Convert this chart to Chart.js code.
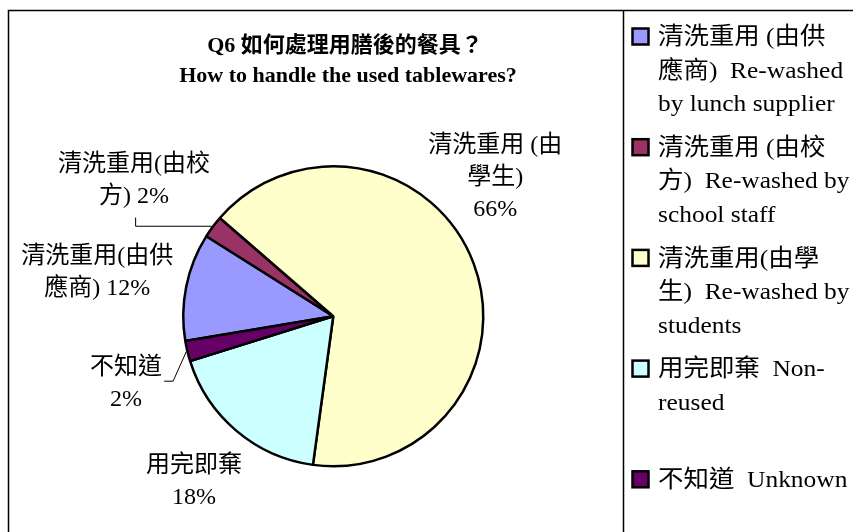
<!DOCTYPE html>
<html>
<head>
<meta charset="utf-8">
<title>Q6 pie</title>
<script src="https://cdn.jsdelivr.net/npm/chart.js@4/dist/chart.umd.min.js"></script>
<style>
  html, body { margin: 0; padding: 0; background: #fff; }
  #wrap { width: 853px; height: 532px; }
</style>
</head>
<body>
<div id="wrap"><canvas id="pie" width="853" height="532"></canvas></div>
<script>
// Data
const categories = [
  '清洗重用 (由供應商) Re-washed by lunch supplier',
  '清洗重用 (由校方) Re-washed by school staff',
  '清洗重用(由學生) Re-washed by students',
  '用完即棄 Non-reused',
  '不知道 Unknown'
];
const shares = [11.6, 2.4, 65.8, 18.0, 2.2];
const sliceColors = ['#9999FF', '#993366', '#FFFFCC', '#CCFFFF', '#660066'];

// legend text, wrapped the way the original wraps it
const legendLines = [
  ['清洗重用 (由供', '應商)  Re-washed', 'by lunch supplier'],
  ['清洗重用 (由校', '方)  Re-washed by', 'school staff'],
  ['清洗重用(由學', '生)  Re-washed by', 'students'],
  ['用完即棄  Non-', 'reused'],
  ['不知道  Unknown']
];
// slice labels; {p} becomes the percentage
const sliceLabelLines = [
  ['清洗重用(由供', '應商) {p}'],
  ['清洗重用(由校', '方) {p}'],
  ['清洗重用 (由', '學生)', '{p}'],
  ['用完即棄', '{p}'],
  ['不知道', '{p}']
];
const titleLines = ['Q6 如何處理用膳後的餐具？', 'How to handle the used tablewares?'];

// where each label sits: distance from centre and turn off the slice middle (deg)
const labelPlace = [
  { dist: 240, turn: -1 },
  { dist: 241, turn: -2.3, leader: 'down' },
  { dist: 213, turn: -19.8 },
  { dist: 216, turn: 0 },
  { dist: 218, turn: -4.7, leader: 'side' }
];

const FONT = '"Liberation Serif", "Times New Roman", "Noto Sans CJK TC", serif';

const decorPlugin = {
  id: 'decor',
  afterDraw(chart) {
    const ctx = chart.ctx;
    const total = shares.reduce((a, b) => a + b, 0);

    // frame + legend separator
    ctx.save();
    ctx.strokeStyle = '#000';
    ctx.lineWidth = 1.5;
    ctx.beginPath();
    ctx.moveTo(8.5, 532); ctx.lineTo(8.5, 10.5); ctx.lineTo(853, 10.5);
    ctx.moveTo(623.5, 10.5); ctx.lineTo(623.5, 532);
    ctx.stroke();

    // title
    ctx.fillStyle = '#000';
    ctx.textAlign = 'center';
    ctx.textBaseline = 'middle';
    ctx.font = 'bold 22px ' + FONT;
    ctx.fillText(titleLines[0], 345, 46);
    ctx.fillText(titleLines[1], 348, 76);

    // slice labels
    const meta = chart.getDatasetMeta(0);
    ctx.font = '24px ' + FONT;
    meta.data.forEach((arc, i) => {
      const p = arc.getProps(['x', 'y', 'startAngle', 'endAngle', 'outerRadius'], true);
      const mid = (p.startAngle + p.endAngle) / 2;
      const pl = labelPlace[i];
      const a = mid + pl.turn * Math.PI / 180;
      const lx = p.x + Math.cos(a) * pl.dist;
      const ly = p.y + Math.sin(a) * pl.dist;
      const pct = Math.round(shares[i] / total * 100) + '%';
      const lines = sliceLabelLines[i].map(s => s.replace('{p}', pct));
      const lh = 32;
      const y0 = ly - (lines.length - 1) * lh / 2;
      ctx.fillStyle = '#000';
      lines.forEach((s, k) => ctx.fillText(s, lx, y0 + k * lh));

      // leader lines to the slice edge
      const ex = p.x + Math.cos(mid) * (p.outerRadius + 1);
      const ey = p.y + Math.sin(mid) * (p.outerRadius + 1);
      ctx.strokeStyle = '#000';
      ctx.lineWidth = 1;
      if (pl.leader === 'down') {
        ctx.beginPath();
        ctx.moveTo(lx + 1.5, y0 + (lines.length - 1) * lh + 21);
        ctx.lineTo(lx + 1.5, ey);
        ctx.lineTo(ex, ey);
        ctx.stroke();
      } else if (pl.leader === 'side') {
        const w = ctx.measureText(lines[0]).width;
        const sx = lx + w / 2 + 2, sy = y0 + 13;
        ctx.beginPath();
        ctx.moveTo(sx, sy);
        ctx.lineTo(sx + 9, sy);
        ctx.lineTo(ex, ey);
        ctx.stroke();
      }
    });

    // legend (text a little wider, as in the original)
    legendLines.forEach((lines, i) => {
      const top = 37 + i * 110.7;
      ctx.fillStyle = sliceColors[i];
      ctx.fillRect(632.5, top - 8.5, 16, 16);
      ctx.strokeStyle = '#000';
      ctx.lineWidth = 2.5;
      ctx.strokeRect(632.5, top - 8.5, 16, 16);
      ctx.fillStyle = '#000';
      ctx.textAlign = 'left';
      lines.forEach((s, k) => {
        ctx.save();
        ctx.translate(658, top + 1 + k * 33.5);
        ctx.scale(1.06, 1);
        ctx.fillText(s, 0, 0);
        ctx.restore();
      });
    });
    ctx.restore();
  }
};

new Chart(document.getElementById('pie'), {
  type: 'pie',
  data: {
    labels: categories,
    datasets: [{
      data: shares,
      backgroundColor: sliceColors,
      borderColor: '#000',
      borderWidth: 2.5,
      hoverBorderWidth: 2.5,
      hoverOffset: 0
    }]
  },
  options: {
    responsive: false,
    animation: false,
    rotation: 260.5,
    layout: { padding: { left: 182, right: 368.5, top: 165, bottom: 64.5 } },
    plugins: {
      legend: { display: false },
      tooltip: { enabled: false },
      title: { display: false }
    }
  },
  plugins: [decorPlugin]
});
</script>
</body>
</html>
